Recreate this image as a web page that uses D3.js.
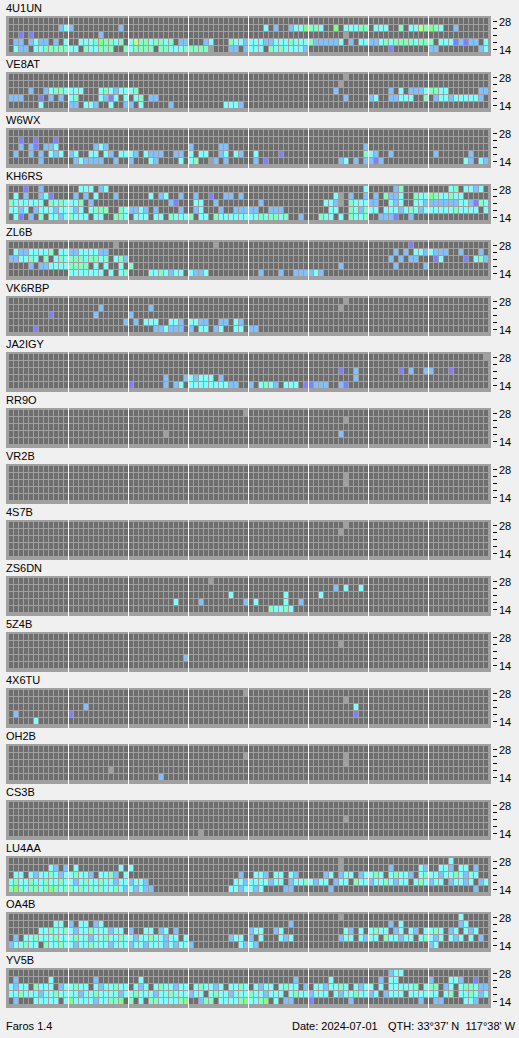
<!DOCTYPE html>
<html><head><meta charset="utf-8">
<script src="https://cdn.jsdelivr.net/npm/d3@7"></script>
<style>body{margin:0;background:#f0f0f0;}svg{display:block;}text{font-family:"Liberation Sans",Arial,sans-serif;font-size:11px;fill:#000;}</style>
</head><body><svg id="chart" width="519" height="1038"></svg>
<script>
// ---- data ----
const stations = ["4U1UN","VE8AT","W6WX","KH6RS","ZL6B","VK6RBP","JA2IGY","RR9O","VR2B","4S7B","ZS6DN","5Z4B","4X6TU","OH2B","CS3B","LU4AA","OA4B","YV5B"];
const bands = ["28","24","21","18","14"];
const bandLabels = ["28","-","-","-","14"];
const slots = d3.range(96);              // 15-minute slots over 24 h
const hourMarks = [12,24,36,48,60,72,84]; // every 3 hours
// signal codes: p,b,c,m,g,y = levels; x = no data
const levelCodes = ["p","b","c","m","g","y","x"];
const levelColors = ["#8080ff","#80c0ff","#80ffff","#80ffc0","#80ff80","#c0ff80","#a0a0a0"];

// each station: rows 28,24,21,18,14 ; entries "slot+code"
const s4U1UN = ["",
 "10b 11c 12b 22b 51c 53b 56b 57c 58c 59g 60m 61m 62c 65g 67c 68c 69c 70m 71m 73c 74c 75c 78m 80c 81c 82y 83m 84g 85m 86c 89b",
 "2p 4p 18b 67x",
 "1b 2b 4b 5c 6b 7b 9b 11c 14c 15c 16c 17m 18g 19m 20m 21c 22m 24c 25y 26m 27m 28c 29m 30m 31c 32m 34b 35b 39b 40c 44m 45c 46c 47b 48c 49c 50c 51b 52b 53c 54c 55c 56m 57c 58c 59c 60m 61b 62b 63b 64b 65b 66c 68b 70c 71c 72b 73b 74c 75m 76c 77m 78m 79m 80m 81c 82m 83m 84m 86c 87c 88c 89p 90b 91p 92b 93b 95c",
 "1c 2b 3b 5c 6c 7m 8m 9m 10m 11m 12c 13c 15m 16c 17c 18m 19m 20m 23m 24c 25m 26m 27m 28m 30m 31m 32c 33c 34c 35m 36m 37m 38m 39m 40x 44b 45b 47b 48c 49c 50c 52m 53c 54m 55c 56c 57c 58c 59b 76p 84b 85b 94b 95c"];
const sVE8AT = ["67x","66x",
 "4b 7b 8c 9m 10m 11c 12c 13c 14c 18c 19m 20c 21b 22c 23c 24c 25m 65b 76b 78c 80b 81b 82b 83c 84m 85m 86c 87c 94b 95b",
 "0b 1b 2b 6p 8b 10b 12c 13m 18c 19b 20p 21c 23c 25c 26m 28b 29b 67b 72b 73c 76b 77b 78c 79c 80c 83m 85b 86c 87c 88b 89c 90c 91c 92c 93c 94b",
 "6c 12b 13b 15c 16c 17b 20c 23b 24b 26c 32b 43c 44c 45c 46b"];
const sW6WX = ["","2p 5p 9p",
 "2b 4b 5p 7b 8b 9c 17b 18c 19b 36b 42b 43b 71b",
 "1b 4b 6b 8c 9b 10c 12b 13c 16c 17c 19c 20b 22c 23c 24c 25b 27c 28b 29b 30b 33b 34b 36c 38c 39c 42b 43c 45c 46b 49c 54p 71m 72c 73b 76b 85b 92b",
 "6b 13b 14c 15b 16b 17b 18b 21b 24b 28c 29b 34c 36c 37m 40x 41b 43b 49b 51p 66b 67c 69b 71b 72b 73p 74b 91c 92b 94c 95b"];
const sKH6RS = [
 "3p 6b 14c 15c 16c 18b 19c 71c 77b 78m 88c 89m 91c 92c 93b 94c",
 "1c 3b 6b 7c 8p 13b 15b 17c 21b 28c 30b 31c 34b 37b 40p 43b 44b 46b 65c 66x 68b 71b 73b 75m 76b 77b 78c 81m 82c 83c 84g 85m 86c 87c 88m 89c 90c",
 "0m 1c 2c 3c 4c 5c 6c 8m 9c 10m 11c 12c 13c 14m 16b 32b 33p 37c 38c 41b 50b 63c 64c 65b 66x 68m 69c 70c 71c 72b 73b 76c 77b 78c 81c 82c 83b 84b 85b 86b 87b 88b 89b 90c 91c 92b 93p 94m 95c",
 "0c 1c 2b 3c 5b 6c 7c 8c 9b 10c 11c 12c 13b 14c 16c 17m 18m 19m 22m 23c 24b 25b 26c 27b 29b 34b 37b 38c 42b 45b 46b 47b 48b 49b 52b 53b 54b 64c 65c 68m 69c 70b 71m 72c 73c 75c 76c 77c 78b 79c 80m 81c 82b 83c 84c 85c 86c 87c 88c 89m 90c 91c 92c 93c 95c",
 "1c 2p 4b 6m 8c 9c 10b 11c 12m 13c 14c 15c 17c 18c 21m 22m 23c 25c 26c 27c 29c 30c 32m 33c 34c 35c 36m 38c 39c 41m 42c 43c 44c 45c 46c 47c 48c 49c 50m 51c 52m 53m 54c 55m 58b 62m 63c 64c 66c 68m 69c 70c 71m 74b 75b 76b 77p 80b"];
const sZL6B = ["21x 41x 80p",
 "1c 2b 3b 4c 5c 6c 7c 8m 10c 11c 12b 13b 14c 15c 16c 17c 18b 19b 77b 79b 81c 82c 83b 84c 85b 86b 87b 90b 94b",
 "0b 1b 2c 3c 4m 5c 7m 9c 10m 11c 12m 13m 14m 15c 16m 17m 18c 19m 21c 22m 23b 76b 78b 80b 81b 85p 86c 91p 93c 94m 95b",
 "4b 6b 7b 8c 9c 10c 11c 12m 13m 14m 15m 17c 19c 22c 24m 66b 77b 83b",
 "12c 13c 14c 15c 16c 17c 18c 20c 22c 23m 28c 29c 30m 31c 32b 33c 34c 36c 37b 38b 39c 50b 54b 57b 58b 59b 60b 61c 62b"];
const sVK6RBP = ["67x","18b 28b 66x","8p 17b 24b",
 "23b 25b 27c 28c 29c 32c 33c 34b 36c 37c 38b 39b 42b 43b 45c 46b",
 "5p 29b 30b 31c 32b 33b 34b 36b 38c 39c 41b 42c 45c 46c 48b 49b"];
const sJA2IGY = ["95x","",
 "66p 69b 78p 80b 83b 84b 88p",
 "31b 35b 36c 37b 38c 39c 40c 42b 69b",
 "24p 31b 33b 34c 36c 37c 38c 39c 40c 41c 42c 43c 44b 45b 48b 50c 51m 52c 53b 55c 56c 57c 59p 60p 61b 62b 63b 66b 67p"];
const sRR9O = ["47x","67x","","31x 66b",""];
const sVR2B = ["","67x","67x","",""];
const s4S7B = ["67x","66x","","",""];
const sZS6DN = ["40x","65b 67c 70c","44c 55c 62c","33c 38b 47b 49c 55c 58b","52m 53c 54c 55m 56c"];
const s5Z4B = ["","66x","","35b",""];
const s4X6TU = ["47x","67x","15b 69c","1b 12p 69p","5c"];
const sOH2B = ["","47x 67x","67x","20x","30b"];
const sCS3B = ["","","67x","","38x"];
const sLU4AA = ["66x 88c",
 "8c 9b 11b 13c 22c 24c 66x 76b 82c 83b 86c 87c 88b 90c 91c 93b",
 "1c 2c 4c 5b 6c 7c 8m 9c 10b 11c 12c 13m 14c 15c 16b 18c 19c 20m 21b 23c 46b 49c 50c 51b 53c 54c 56c 57b 63b 64c 66b 67c 68c 70b 71c 72c 73m 74c 76c 77m 78c 79c 80b 82c 83m 84c 85c 86b 87c 88c 89m 90c 91b 92c 93c",
 "0c 1m 2c 3c 4m 5c 6c 7m 8c 9c 10m 11c 12c 13b 14c 15m 16c 17c 18m 19c 20c 21b 22c 23c 24b 25c 26c 27b 45c 46c 47b 48c 49c 50c 51c 52b 53c 54c 56b 57c 58c 59m 60c 61b 62c 63c 65b 66c 67c 69m 70c 71c 72b 73c 74c 75m 76c 77b 78c 79c 81c 82m 83c 84b 85c 86c 88b 89c 90c 91b 92c 94b 95c",
 "0m 1g 2m 3c 4m 5m 6c 7m 8g 9m 10c 11m 12m 13c 14m 15c 16m 17c 18m 19c 20c 21m 22c 23b 24c 25b 26c 27b 28b 44c 45c 46b 47c 48c 49b 50c 55b 56b 64b 93b"];
const sOA4B = ["66x 90c",
 "9c 10c 12b 14c 15c 17b 18c 56b 76b 78c 90b 91c",
 "6c 7c 8m 9c 10c 11m 12c 13b 14c 15c 16m 17c 18c 19c 20b 21c 22c 24b 27c 28c 30b 31c 33b 48b 49c 50c 53b 54c 67c 68b 70c 72c 73m 74c 75c 77b 78c 80c 81b 83c 84c 85m 86c 88b 89c 91c 92b 93c",
 "1b 3c 4c 5m 6c 7c 8c 9m 10c 11c 12c 13m 14c 15c 16b 17c 18c 19m 20c 21c 22m 23c 24c 25b 26c 27c 28m 29c 30c 31b 32c 33c 35c 44b 45c 46c 48b 50c 54c 55b 56c 66b 67c 68c 70c 71b 72c 73c 75m 76c 77c 78b 79c 80c 82c 83m 84c 85b 86c 88c 89b 90c 92c 94b",
 "0b 1c 2c 3m 4c 5c 7m 8c 9c 10m 11c 12c 13b 14c 15c 16m 17c 18c 19c 20b 21c 22c 23c 24b 25c 26c 27b 28c 29c 30c 31b 32c 33b 34c 35c 36b 46c 47b 48c 49b 84b 85c"];
const sYV5B = ["76b 77c 78c",
 "1b 8c 17b 26c 57b 64c 74b 76c 77c 84b 88c 89c 90b 93p",
 "0c 1b 2c 3c 5m 6c 7c 8c 10b 11c 12c 13m 14c 15c 17c 18b 19c 20c 21m 22c 23c 25c 26b 27c 29c 30m 31c 32c 33b 34c 35c 37c 38m 39c 40c 41b 42c 44c 45c 46m 47c 49c 50b 51c 52c 54c 55m 56c 57c 59b 61c 62c 63b 64c 65c 66m 67c 69c 70b 71c 72c 74c 76c 77c 78c 79c 80c 81m 83c 84m 85m 87b 88c 90c 91m 92m 93c 94b 95b",
 "0c 1c 2m 3c 4c 5c 6b 7c 8c 9m 10c 11c 12c 13c 14b 15c 16c 17m 18c 19c 20c 21c 22b 23c 24c 25m 26c 27c 28c 29b 30c 31c 32m 33c 34c 35c 36b 37c 38c 40c 41m 42c 43c 44b 45c 46c 47c 48m 49c 50c 51b 52c 53c 54c 56c 57m 58c 59c 60b 61c 62c 63c 65c 66b 67c 68c 69m 70c 71c 72b 73c 75b 76c 77c 78c 80c 81c 82c 83c 84c 85c 87c 88m 90c 91c 92m 93c 94b 95c",
 "1b 5c 6c 7c 8c 9c 11c 12g 13c 14c 15c 16c 17b 18c 19c 20m 21m 22g 24m 26c 28m 29m 30c 31c 32c 33c 34m 35g 38b 39m 40m 42c 43c 44c 45c 46m 47g 48c 49c 50m 51g 53c 55b 56b 60p 68b 82b 85b 86b 91c 92c 93b"];
const stationRows = [s4U1UN,sVE8AT,sW6WX,sKH6RS,sZL6B,sVK6RBP,sJA2IGY,sRR9O,sVR2B,s4S7B,sZS6DN,s5Z4B,s4X6TU,sOH2B,sCS3B,sLU4AA,sOA4B,sYV5B];

// ---- drawing ----
const svg = d3.select("#chart");
const color = d3.scaleOrdinal().domain(levelCodes).range(levelColors);
const x = d3.scaleBand().domain(slots).range([8.5, 488.5]).paddingInner(0.2).paddingOuter(0.1);
const y = d3.scaleBand().domain(bands).range([17.5, 52.5]).paddingInner(1/7).paddingOuter(1/14);
const panelY = d3.scaleLinear().domain([0, 1]).range([0, 56]);

stations.forEach((name, i) => {
  const g = svg.append("g").attr("transform", `translate(0,${panelY(i)})`);
  g.append("text").attr("x", 6).attr("y", 12).text(name);
  g.append("rect").attr("x", 6).attr("y", 16).attr("width", 485).attr("height", 40).attr("fill", "#a0a0a0");
  const cells = [];
  bands.forEach(b => slots.forEach(s => cells.push({b, s})));
  g.append("g").selectAll("rect").data(cells).join("rect")
    .attr("x", d => x(d.s)).attr("y", d => y(d.b))
    .attr("width", x.bandwidth()).attr("height", y.bandwidth())
    .attr("fill", "#6e6e6e");
  const sig = [];
  stationRows[i].forEach((row, r) => {
    row.split(/\s+/).filter(t => t).forEach(t => {
      sig.push({b: bands[r], s: parseInt(t), code: t.replace(/[0-9]/g, "")});
    });
  });
  g.append("g").selectAll("rect").data(sig).join("rect")
    .attr("x", d => x(d.s)).attr("y", d => y(d.b))
    .attr("width", x.bandwidth()).attr("height", y.bandwidth())
    .attr("fill", d => color(d.code));
  g.append("g").selectAll("rect").data(hourMarks).join("rect")
    .attr("x", h => x(h) - 1).attr("y", 16).attr("width", 1).attr("height", 40)
    .attr("fill", "#ffffff");
  bands.forEach((b, r) => {
    const cy = y(b) + y.bandwidth() / 2;
    g.append("rect").attr("x", 493).attr("y", Math.round(cy)).attr("width", 4).attr("height", 1).attr("fill", "#000");
    if (bandLabels[r] !== "-")
      g.append("text").attr("x", 499).attr("y", cy + 5).text(bandLabels[r]);
  });
});

svg.append("text").attr("x", 6).attr("y", 1030).text("Faros 1.4");
svg.append("text").attr("x", 292).attr("y", 1030).text("Date: 2024-07-01");
svg.append("text").attr("x", 388).attr("y", 1030).style("white-space", "pre").text("QTH: 33°37' N  117°38' W");
</script></body></html>
